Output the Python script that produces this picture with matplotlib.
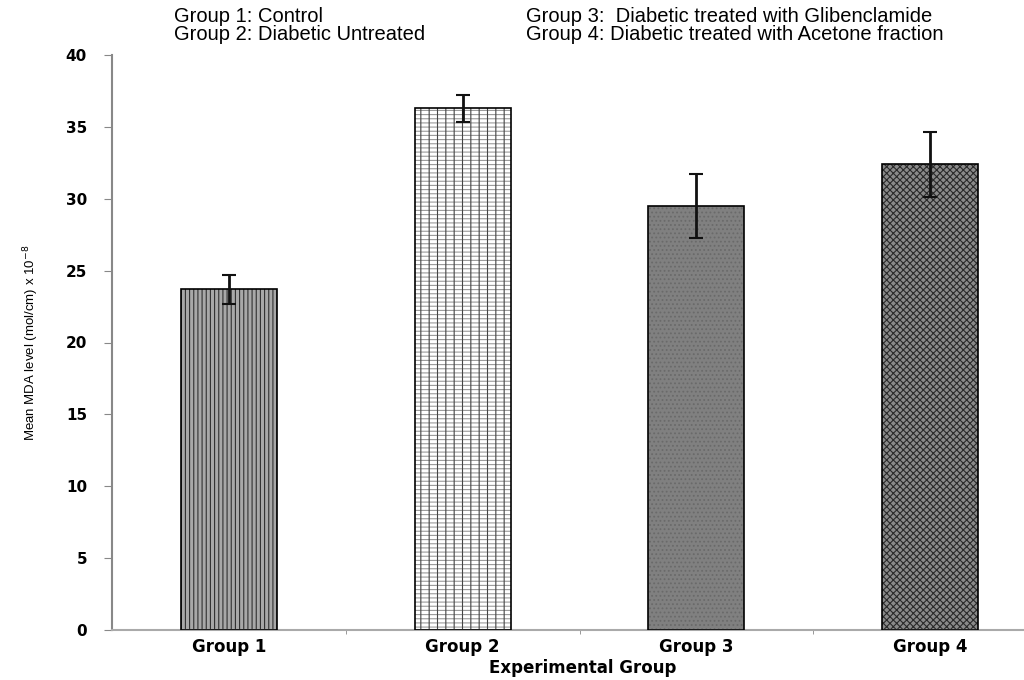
import matplotlib.pyplot as plt
import matplotlib as mpl

groups = ["Group 1", "Group 2", "Group 3", "Group 4"]
means = [23.7, 36.3, 29.5, 32.4]
errors = [1.0, 0.95, 2.25, 2.25]
legend_left = ["Group 1: Control", "Group 2: Diabetic Untreated"]
legend_right = ["Group 3:  Diabetic treated with Glibenclamide",
                "Group 4: Diabetic treated with Acetone fraction"]

face = ["#a8a8a8", "#ffffff", "#808080", "#8a8a8a"]
hatches = ["||||", "----", "....", "xxxxx"]
hatch_col = ["#303030", "#9a9a9a", "#6a6a6a", "#2a2a2a"]

mpl.rcParams['hatch.linewidth'] = 0.8
plt.rcParams['font.family'] = ['Liberation Sans', 'DejaVu Sans']
bold_font = ['DejaVu Sans']

fig = plt.figure(figsize=(10.24, 6.8), dpi=100)
ax = fig.add_axes([112 / 1024, 1 - 630 / 680, 935 / 1024, 575 / 680])

x = range(len(groups))
for i in x:
    ax.bar(i, means[i], width=0.41, color=face[i], edgecolor=hatch_col[i],
           hatch=hatches[i], linewidth=0, zorder=2)
    if i == 1:
        # stronger vertical lines over the light horizontal ones
        ax.bar(i, means[i], width=0.41, fill=False, edgecolor="#444444",
               hatch="||", linewidth=0, zorder=2)
    ax.bar(i, means[i], width=0.41, fill=False, edgecolor="black",
           linewidth=1.2, zorder=3)
ax.errorbar(list(x), means, yerr=errors, fmt="none", ecolor="#111111",
            elinewidth=2, capsize=5, capthick=1.5, zorder=4)

ax.set_xlim(-0.5, 3.5)
ax.set_ylim(0, 40)
ax.set_yticks(range(0, 41, 5))
ax.set_xticks(list(x))
ax.set_xticklabels(groups, fontweight="bold", fontsize=12, family=bold_font)
ax.set_xticks([0.5, 1.5, 2.5], minor=True)
ax.tick_params(axis="x", which="major", length=0, pad=6)
ax.tick_params(axis="x", which="minor", length=3, color="#888888")
ax.tick_params(axis="y", length=6, color="#888888", pad=12)
for t in ax.get_yticklabels():
    t.set_fontweight("bold")
    t.set_fontsize(11)
    t.set_family(bold_font)

for s in ["top", "right"]:
    ax.spines[s].set_visible(False)
ax.spines["left"].set_color("#888888")
ax.spines["bottom"].set_color("#aaaaaa")
ax.spines["left"].set_linewidth(1.5)
ax.spines["bottom"].set_linewidth(1.5)

ax.set_ylabel("Mean MDA level (mol/cm) x 10$^{-8}$", fontsize=9.5,
              fontstretch="condensed", labelpad=18)
fig.text(583 / 1024, 1 - 668 / 680, "Experimental Group", ha="center",
         va="center", fontweight="bold", fontsize=12, family=bold_font)

for k, line in enumerate(legend_left):
    fig.text(174 / 1024, 1 - (16 + 19 * k) / 680, line, ha="left",
             va="center", fontsize=14.5)
for k, line in enumerate(legend_right):
    fig.text(526 / 1024, 1 - (16 + 19 * k) / 680, line, ha="left",
             va="center", fontsize=14.5)

fig.savefig("out.png", dpi=100)
